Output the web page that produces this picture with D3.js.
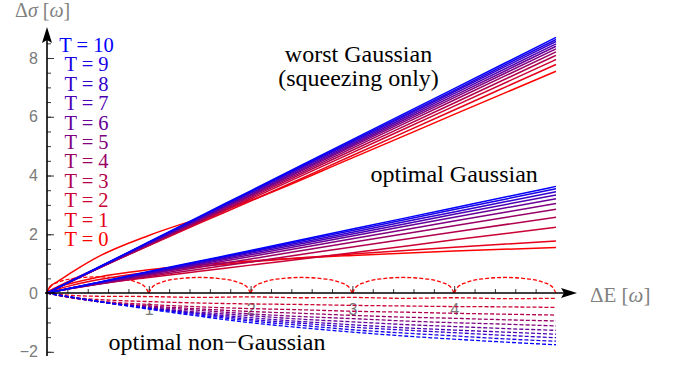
<!DOCTYPE html>
<html>
<head>
<meta charset="utf-8">
<script src="https://cdn.jsdelivr.net/npm/d3@7"></script>
<style>
  body { margin: 0; background: #fff; }
  svg { display: block; }
  .serif { font-family: "Liberation Serif", "Times New Roman", serif; }
  .tick text { font-family: "Liberation Sans", Arial, sans-serif; font-size: 16px; fill: #7a7a7a; }
</style>
</head>
<body>
<div id="chart"></div>
<script>
// Temperatures, one curve per value in each family
var temps = [0, 1, 2, 3, 4, 5, 6, 7, 8, 9, 10];

// x samples (energy change, units of omega) for the two Gaussian families
var gaussX = [0, 0.03, 0.1, 0.25, 0.5, 1, 1.5, 2, 3, 4, 5];

// worst Gaussian (squeezing only), index = T
var worstGaussian = [
  [0, 0.22, 0.38, 0.72, 1.23, 1.96, 2.55, 3.15, 4.60, 6.08, 7.55],
  [0, 0.08, 0.21, 0.46, 0.85, 1.62, 2.38, 3.13, 4.68, 6.23, 7.78],
  [0, 0.06, 0.18, 0.43, 0.83, 1.62, 2.41, 3.20, 4.78, 6.36, 7.95],
  [0, 0.05, 0.17, 0.42, 0.83, 1.63, 2.44, 3.25, 4.86, 6.47, 8.09],
  [0, 0.05, 0.17, 0.42, 0.83, 1.65, 2.47, 3.29, 4.93, 6.57, 8.21],
  [0, 0.05, 0.17, 0.42, 0.84, 1.67, 2.50, 3.33, 4.99, 6.65, 8.31],
  [0, 0.05, 0.17, 0.42, 0.84, 1.68, 2.52, 3.36, 5.04, 6.72, 8.40],
  [0, 0.05, 0.17, 0.43, 0.85, 1.70, 2.55, 3.40, 5.09, 6.79, 8.48],
  [0, 0.05, 0.17, 0.43, 0.86, 1.71, 2.57, 3.43, 5.14, 6.85, 8.56],
  [0, 0.05, 0.17, 0.43, 0.86, 1.73, 2.59, 3.45, 5.18, 6.90, 8.63],
  [0, 0.05, 0.17, 0.44, 0.87, 1.74, 2.61, 3.48, 5.22, 6.96, 8.70]
];

// optimal Gaussian, index = T
var optimalGaussian = [
  [0, 0.07, 0.19, 0.34, 0.54, 0.79, 0.96, 1.09, 1.28, 1.43, 1.55],
  [0, 0.05, 0.13, 0.27, 0.45, 0.71, 0.90, 1.06, 1.33, 1.56, 1.77],
  [0, 0.03, 0.08, 0.18, 0.31, 0.53, 0.74, 0.95, 1.37, 1.81, 2.24],
  [0, 0.02, 0.07, 0.16, 0.30, 0.56, 0.81, 1.06, 1.57, 2.08, 2.58],
  [0, 0.02, 0.07, 0.16, 0.31, 0.60, 0.88, 1.16, 1.73, 2.29, 2.85],
  [0, 0.02, 0.07, 0.17, 0.32, 0.63, 0.94, 1.24, 1.85, 2.45, 3.05],
  [0, 0.02, 0.07, 0.17, 0.33, 0.66, 0.98, 1.30, 1.94, 2.58, 3.21],
  [0, 0.02, 0.07, 0.17, 0.34, 0.68, 1.01, 1.35, 2.01, 2.68, 3.34],
  [0, 0.02, 0.07, 0.18, 0.35, 0.70, 1.04, 1.39, 2.07, 2.76, 3.45],
  [0, 0.02, 0.07, 0.18, 0.36, 0.72, 1.07, 1.42, 2.13, 2.84, 3.55],
  [0, 0.02, 0.07, 0.18, 0.36, 0.73, 1.09, 1.45, 2.18, 2.90, 3.63]
];

// optimal non-Gaussian at T = 0: arches between integer energies
var nonGaussT0X = [
  0, 0.04, 0.12, 0.25, 0.5, 0.75, 0.88, 0.96,
  1, 1.04, 1.12, 1.25, 1.5, 1.75, 1.88, 1.96,
  2, 2.04, 2.12, 2.25, 2.5, 2.75, 2.88, 2.96,
  3, 3.04, 3.12, 3.25, 3.5, 3.75, 3.88, 3.96,
  4, 4.04, 4.12, 4.25, 4.5, 4.75, 4.88, 4.96, 5
];
var nonGaussT0 = [
  0, 0.24, 0.38, 0.49, 0.55, 0.48, 0.37, 0.22,
  0, 0.22, 0.36, 0.47, 0.53, 0.47, 0.36, 0.22,
  0, 0.22, 0.36, 0.47, 0.53, 0.47, 0.36, 0.22,
  0, 0.22, 0.36, 0.47, 0.53, 0.47, 0.36, 0.22,
  0, 0.22, 0.36, 0.47, 0.53, 0.47, 0.36, 0.22, 0
];

// optimal non-Gaussian for T = 1 .. 10
var nonGaussX = [0, 0.25, 0.5, 1, 1.5, 2, 2.5, 3, 3.5, 4, 4.5, 5];
var nonGaussian = [
  [0, -0.08, -0.11, -0.12, -0.15, -0.13, -0.16, -0.15, -0.18, -0.16, -0.19, -0.18],
  [0, -0.15, -0.22, -0.29, -0.34, -0.37, -0.39, -0.42, -0.44, -0.46, -0.47, -0.49],
  [0, -0.17, -0.27, -0.39, -0.47, -0.53, -0.57, -0.62, -0.65, -0.69, -0.72, -0.75],
  [0, -0.16, -0.29, -0.44, -0.54, -0.63, -0.69, -0.76, -0.82, -0.86, -0.91, -0.95],
  [0, -0.16, -0.29, -0.47, -0.59, -0.71, -0.80, -0.87, -0.95, -1.01, -1.06, -1.12],
  [0, -0.15, -0.29, -0.50, -0.65, -0.77, -0.89, -0.98, -1.07, -1.14, -1.21, -1.27],
  [0, -0.15, -0.29, -0.50, -0.69, -0.84, -0.97, -1.08, -1.18, -1.26, -1.33, -1.40],
  [0, -0.15, -0.29, -0.52, -0.71, -0.90, -1.03, -1.16, -1.26, -1.35, -1.44, -1.52],
  [0, -0.15, -0.28, -0.52, -0.75, -0.95, -1.10, -1.25, -1.36, -1.46, -1.56, -1.64],
  [0, -0.14, -0.28, -0.55, -0.79, -1.01, -1.18, -1.33, -1.46, -1.57, -1.67, -1.76]
];

// tick values
var xMajorTicks = [1, 2, 3, 4];
var xMinorTicks = d3.range(0.2, 4.9, 0.2);
var yMajorTicks = [-2, 0, 2, 4, 6, 8];
var yMinorTicks = d3.range(-2, 8.6, 0.5);

var width = 677;
var height = 369;

var svg = d3.select('#chart')
  .append('svg')
  .attr('width', width)
  .attr('height', height);

// scales: origin sits at (47, 293)
var x = d3.scaleLinear().domain([0, 5]).range([47, 556]);
var y = d3.scaleLinear().domain([-2, 8]).range([351.8, 58]);

// red (T = 0) to blue (T = 10)
var color = function (t) {
  return d3.interpolateRgb('#ff0000', '#0000ff')(t / 10);
};

// minor ticks (no labels)
svg.append('g')
  .attr('transform', 'translate(0,' + y(0) + ')')
  .call(d3.axisBottom(x).tickValues(xMinorTicks).tickSize(-4).tickFormat(''))
  .call(function (g) { g.select('.domain').remove(); });
svg.append('g')
  .attr('transform', 'translate(' + x(0) + ',0)')
  .call(d3.axisLeft(y).tickValues(yMinorTicks).tickSize(-4).tickFormat(''))
  .call(function (g) { g.select('.domain').remove(); });

// major ticks with labels
svg.append('g')
  .attr('transform', 'translate(0,' + y(0) + ')')
  .call(d3.axisBottom(x).tickValues(xMajorTicks).tickSize(-7).tickPadding(11).tickFormat(d3.format('d')))
  .call(function (g) { g.select('.domain').remove(); });
svg.append('g')
  .attr('transform', 'translate(' + x(0) + ',0)')
  .call(d3.axisLeft(y).tickValues(yMajorTicks).tickSize(-7).tickPadding(9).tickFormat(d3.format('d')))
  .call(function (g) { g.select('.domain').remove(); });

svg.selectAll('.tick line').attr('stroke', '#333').attr('stroke-width', 1);

// curves
var gaussLine = d3.line()
  .x(function (d, i) { return x(gaussX[i]); })
  .y(function (d) { return y(d); })
  .curve(d3.curveMonotoneX);

var nonGaussLine = d3.line()
  .x(function (d, i) { return x(nonGaussX[i]); })
  .y(function (d) { return y(d); })
  .curve(d3.curveMonotoneX);

var arcLine = d3.line()
  .x(function (d) { return x(d[0]); })
  .y(function (d) { return y(d[1]); })
  .curve(d3.curveMonotoneX);

var curves = svg.append('g').attr('fill', 'none');

// dashed non-Gaussian, T = 0 split into arches so the cusps stay sharp
var arches = [];
var current = [];
nonGaussT0X.forEach(function (xv, i) {
  current.push([xv, nonGaussT0[i]]);
  if (nonGaussT0[i] === 0 && current.length > 1) {
    arches.push(current);
    current = [[xv, 0]];
  }
});

curves.selectAll('.arch')
  .data(arches)
  .enter()
  .append('path')
  .attr('class', 'arch')
  .attr('d', arcLine)
  .attr('stroke', color(0))
  .attr('stroke-width', 1.3)
  .attr('stroke-dasharray', '4,2');

curves.selectAll('.nongauss')
  .data(nonGaussian)
  .enter()
  .append('path')
  .attr('class', 'nongauss')
  .attr('d', nonGaussLine)
  .attr('stroke', function (d, i) { return color(temps[i + 1]); })
  .attr('stroke-width', 1.3)
  .attr('stroke-dasharray', '4,2');

curves.selectAll('.optimal')
  .data(optimalGaussian)
  .enter()
  .append('path')
  .attr('class', 'optimal')
  .attr('d', gaussLine)
  .attr('stroke', function (d, i) { return color(temps[i]); })
  .attr('stroke-width', 1.5);

curves.selectAll('.worst')
  .data(worstGaussian)
  .enter()
  .append('path')
  .attr('class', 'worst')
  .attr('d', gaussLine)
  .attr('stroke', function (d, i) { return color(temps[i]); })
  .attr('stroke-width', 1.5);

// axis lines with arrow heads
svg.append('line')
  .attr('x1', x(0) - 2).attr('x2', 566)
  .attr('y1', y(0)).attr('y2', y(0))
  .attr('stroke', '#000').attr('stroke-width', 1.6);
svg.append('path')
  .attr('d', 'M577,' + y(0) + 'L561,' + (y(0) - 5) + 'L564,' + y(0) + 'L561,' + (y(0) + 5) + 'Z')
  .attr('fill', '#000');

svg.append('line')
  .attr('x1', x(0)).attr('x2', x(0))
  .attr('y1', 356).attr('y2', 38)
  .attr('stroke', '#000').attr('stroke-width', 1.6);
svg.append('path')
  .attr('d', 'M' + x(0) + ',27L' + (x(0) - 5) + ',43L' + x(0) + ',40L' + (x(0) + 5) + ',43Z')
  .attr('fill', '#000');

// axis titles
var yTitle = svg.append('text')
  .attr('class', 'serif')
  .attr('x', 15).attr('y', 17)
  .attr('font-size', 20)
  .attr('fill', '#808080');
yTitle.append('tspan').text('Δ');
yTitle.append('tspan').attr('font-style', 'italic').text('σ');
yTitle.append('tspan').text(' [');
yTitle.append('tspan').attr('font-style', 'italic').text('ω');
yTitle.append('tspan').text(']');

var xTitle = svg.append('text')
  .attr('class', 'serif')
  .attr('x', 590).attr('y', 302)
  .attr('font-size', 21)
  .attr('fill', '#808080');
xTitle.append('tspan').text('ΔE [');
xTitle.append('tspan').attr('font-style', 'italic').text('ω');
xTitle.append('tspan').text(']');

// legend, T = 10 on top
var legendTemps = temps.slice().reverse();
svg.selectAll('.legend')
  .data(legendTemps)
  .enter()
  .append('text')
  .attr('class', 'serif legend')
  .attr('x', 86.5)
  .attr('y', function (d, i) { return 52 + i * 19.4; })
  .attr('text-anchor', 'middle')
  .attr('font-size', 20.5)
  .attr('fill', function (d) { return color(d); })
  .text(function (d) { return 'T = ' + d; });

// annotations
var notes = svg.append('g')
  .attr('class', 'serif')
  .attr('font-size', 24)
  .attr('fill', '#000')
  .attr('text-anchor', 'middle');
notes.append('text').attr('x', x(3.06)).attr('y', y(7.85)).text('worst Gaussian');
notes.append('text').attr('x', x(3.06)).attr('y', y(7.03)).text('(squeezing only)');
notes.append('text').attr('x', x(4.0)).attr('y', y(3.78)).text('optimal Gaussian');
notes.append('text').attr('x', x(1.67)).attr('y', y(-1.94)).text('optimal non\u2212Gaussian');
</script>
</body>
</html>
